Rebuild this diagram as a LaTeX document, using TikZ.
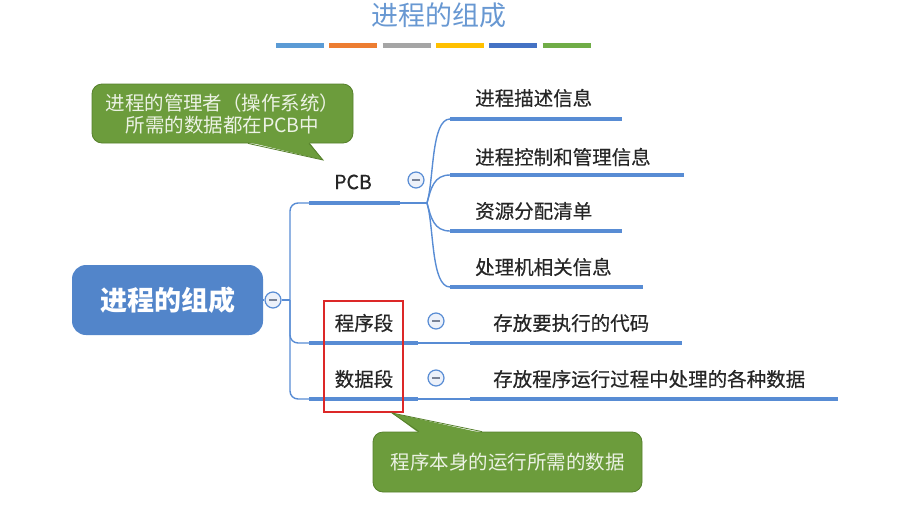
\documentclass[tikz,border=0pt]{standalone}
\usepackage{fontspec}
\setmainfont{Noto Sans CJK SC}
\newfontfamily\mapfont{Noto Sans CJK SC}[FakeBold=0.5]
\usetikzlibrary{calc}
\definecolor{mapblue}{RGB}{88,140,212}
\definecolor{mainblue}{RGB}{82,133,202}
\definecolor{titleblue}{RGB}{104,152,210}
\definecolor{foldfill}{RGB}{236,241,250}
\definecolor{foldgray}{RGB}{120,130,150}
\definecolor{notegreen}{RGB}{108,156,60}
\definecolor{noteedge}{RGB}{86,128,44}
\definecolor{notetext}{RGB}{236,242,228}
\definecolor{barA}{RGB}{91,155,213}
\definecolor{barB}{RGB}{237,125,49}
\definecolor{barC}{RGB}{165,165,165}
\definecolor{barD}{RGB}{255,192,0}
\definecolor{barE}{RGB}{68,114,196}
\definecolor{barF}{RGB}{112,173,71}
\definecolor{markred}{RGB}{220,40,40}

\begin{document}
\begin{tikzpicture}[x=1pt,y=-1pt,
	link/.style={draw=mapblue, line width=1.4pt},
	bar/.style={draw=mapblue, line width=4pt},
	item/.style={anchor=west, inner sep=0pt, text=black!85, font=\mapfont\fontsize{19.5}{22}\selectfont},
	fold/.style={circle, draw=mapblue, line width=1.2pt, fill=foldfill, minimum size=16pt, inner sep=0pt,
		path picture={\draw[foldgray, line width=1.6pt] ([xshift=-4pt]path picture bounding box.center) -- ([xshift=4pt]path picture bounding box.center);}},
	note/.style={rounded corners=10pt, fill=notegreen, draw=noteedge, line width=0.8pt, text=notetext, align=center, inner sep=0pt, font=\fontsize{19.5}{22}\selectfont}]
	\useasboundingbox (0,0) rectangle (898,504);
	\node[text=titleblue, font=\fontsize{27}{29}\selectfont] (title) at (439,15) {进程的组成};
	\foreach \c [count=\i] in {barA,barB,barC,barD,barE,barF}
		\draw[\c, line width=5pt] ({276+53.3*(\i-1)},45) -- ++(48,0);

	\node[fill=mainblue, rounded corners=14pt, minimum width=191pt, minimum height=70pt, text=white, font=\fontsize{27}{30}\selectfont\bfseries] (main) at (167.5,300) {进程的组成};
	\node[fold] (f0) at (273,300) {};
	\coordinate (trunk) at (290,300);
	\draw[link] (main.east) -- (f0.west);
	\draw[link] (f0.east) -- (trunk);

	\coordinate (pcbL) at (309,203);
	\coordinate (pcbR) at (400,203);
	\coordinate (pcbB) at (427,203);
	\coordinate (codeL) at (309,343);
	\coordinate (codeM) at (418,343);
	\coordinate (codeN) at (470,343);
	\coordinate (codeR) at (682,343);
	\coordinate (dataL) at (309,399);
	\coordinate (dataM) at (418,399);
	\coordinate (dataN) at (470,399);
	\coordinate (dataR) at (838,399);
	\coordinate (s1L) at (450,119);
	\coordinate (s1R) at (622,119);
	\coordinate (s2L) at (450,175);
	\coordinate (s2R) at (684,175);
	\coordinate (s3L) at (450,231);
	\coordinate (s3R) at (622,231);
	\coordinate (s4L) at (450,287);
	\coordinate (s4R) at (643,287);

	\draw[link, rounded corners=8pt] (pcbL) -| (trunk) |- (dataL);
	\draw[link, rounded corners=8pt] (trunk) |- (codeL);
	\draw[bar] (pcbL) -- (pcbR);
	\draw[link] (pcbR) -- (pcbB);
	\draw[link] (pcbB) .. controls (434,180) and (431,119) .. (s1L);
	\draw[link] (pcbB) .. controls (431,188) and (434,175) .. (s2L);
	\draw[link] (pcbB) .. controls (431,218) and (434,231) .. (s3L);
	\draw[link] (pcbB) .. controls (434,226) and (431,287) .. (s4L);
	\foreach \s in {s1,s2,s3,s4}
		\draw[bar] (\s L) -- (\s R);
	\draw[bar] (codeL) -- (codeM);
	\draw[link] (codeM) -- (codeN);
	\draw[bar] (codeN) -- (codeR);
	\draw[bar] (dataL) -- (dataM);
	\draw[link] (dataM) -- (dataN);
	\draw[bar] (dataN) -- (dataR);

	\node[item, anchor=center] (pcb) at (353,182) {PCB};
	\node[fold] (f1) at (416,180) {};
	\node[item] (s1) at (475,98) {进程描述信息};
	\node[item] (s2) at (475,157) {进程控制和管理信息};
	\node[item] (s3) at (475,211) {资源分配清单};
	\node[item] (s4) at (475,267) {处理机相关信息};
	\node[item, anchor=center] (code) at (364,323) {程序段};
	\node[fold] (f2) at (436,321) {};
	\node[item] (codetext) at (493,323) {存放要执行的代码};
	\node[item, anchor=center] (data) at (364,379) {数据段};
	\node[fold] (f3) at (436,378) {};
	\node[item] (datatext) at (493,379) {存放程序运行过程中处理的各种数据};
	\draw[markred, line width=1.8pt] (324,301) rectangle (403,412);

	\node[note, minimum width=261pt, minimum height=59pt] (note1) at (222.5,113.5) {进程的管理者（操作系统）\\所需的数据都在PCB中};
	\coordinate (tip1) at (323,160);
	\fill[notegreen] (248,142) -- (tip1) -- (309,142) -- cycle;
	\draw[noteedge, line width=0.8pt] (248,143.4) -- (tip1) -- (309,143.4);

	\node[note, minimum width=269pt, minimum height=60pt] (note2) at (507.5,462) {程序本身的运行所需的数据};
	\coordinate (tip2) at (392,413);
	\fill[notegreen] (419,433) -- (tip2) -- (482,433) -- cycle;
	\draw[noteedge, line width=0.8pt] (419,431.6) -- (tip2) -- (482,431.6);
\end{tikzpicture}
\end{document}
